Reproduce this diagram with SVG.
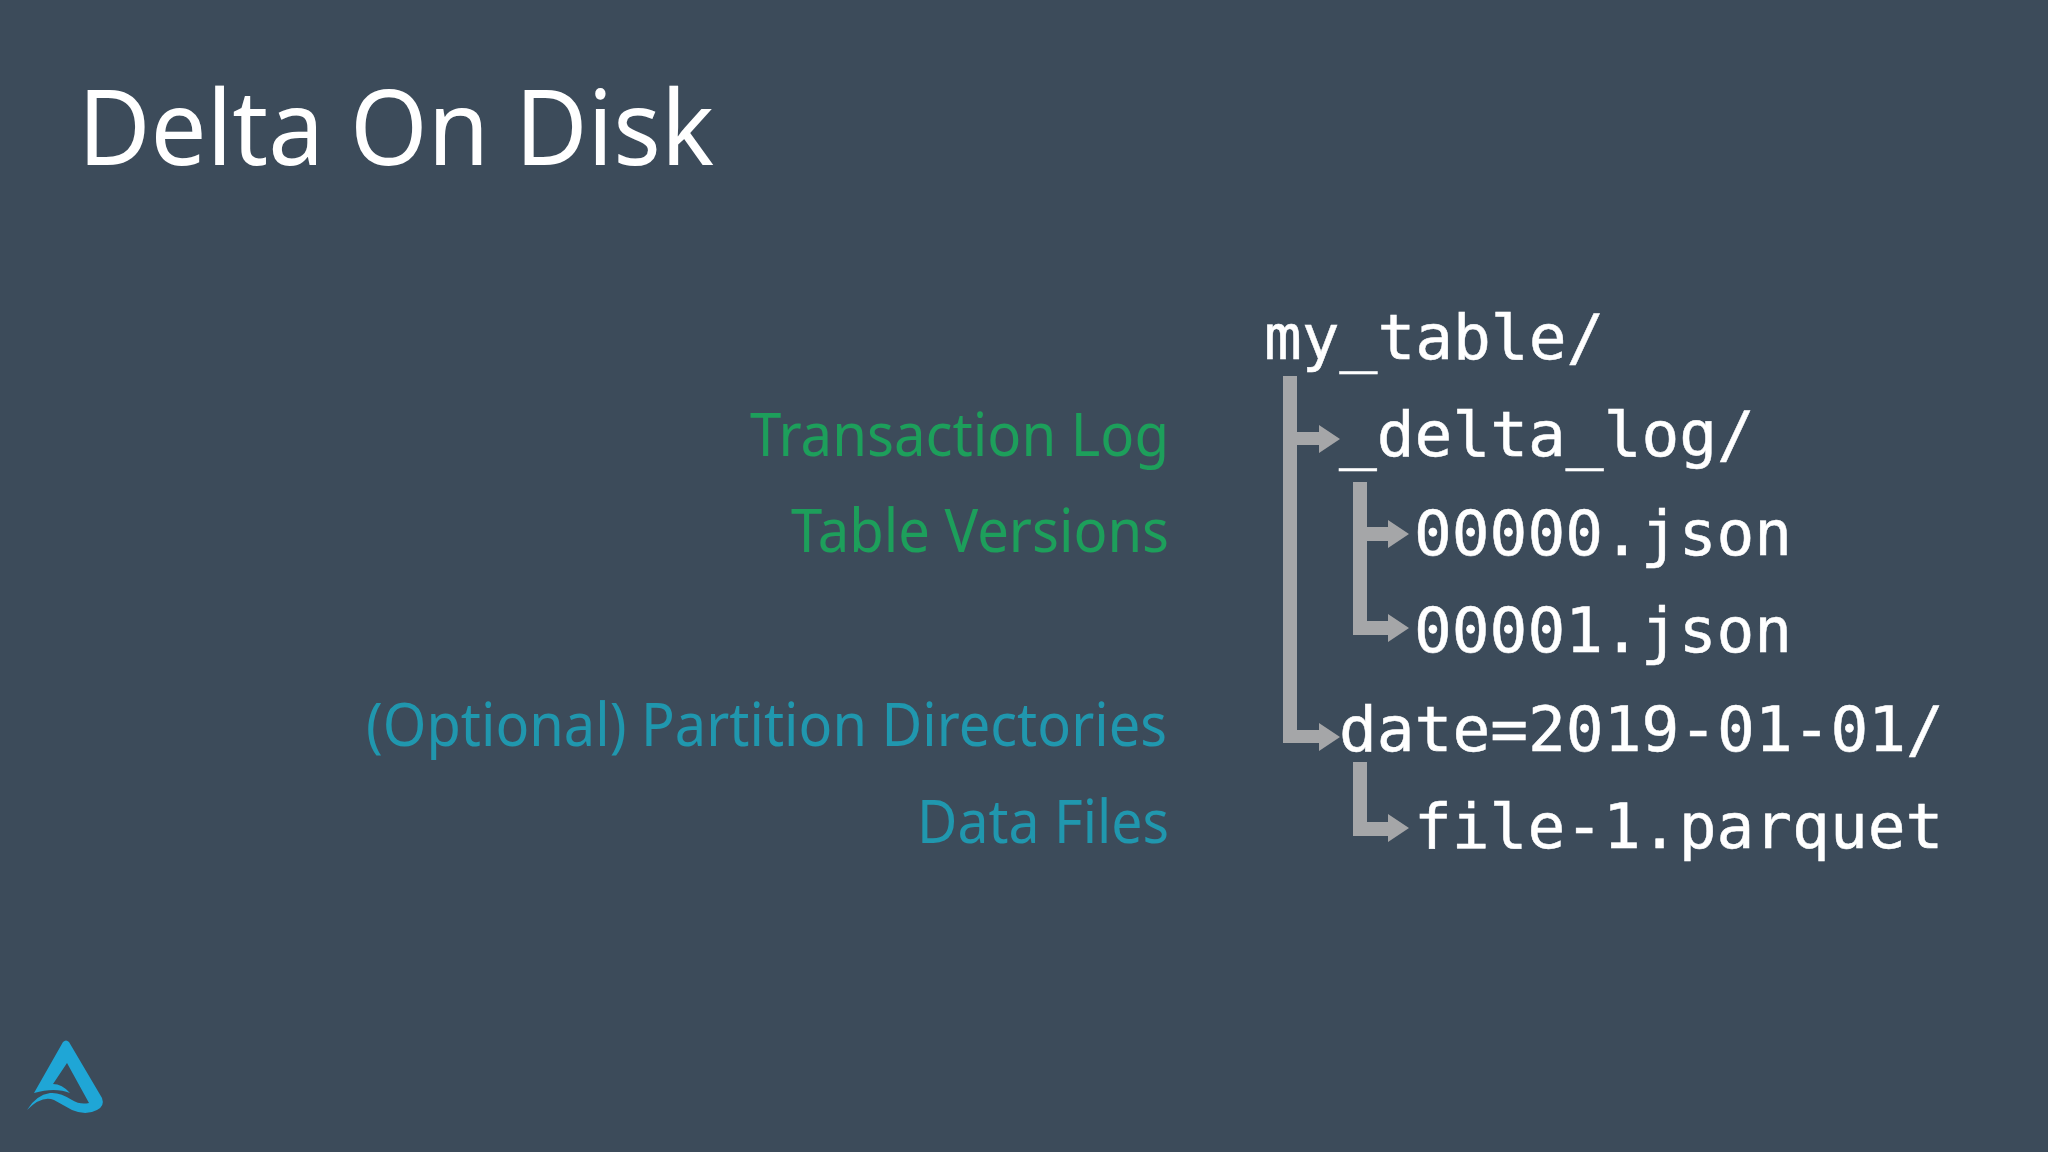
<svg xmlns="http://www.w3.org/2000/svg" width="2048" height="1152" viewBox="0 0 2048 1152">
<defs><style>
.t{font-family:"DejaVu Sans Mono",monospace;font-size:62.8px;fill:#fff;stroke:#fff;stroke-width:.5px}
.l{font-family:"Noto Sans",sans-serif;font-size:60px;text-anchor:end}
.g{fill:#1d9f5b}.b{fill:#2097ae}
.c{fill:#a5a6a8}
</style></defs>
<rect width="2048" height="1152" fill="#3c4b5a"/>
<text id="title" x="78" y="165" font-family="Noto Sans, sans-serif" font-size="105" fill="#fff" textLength="636" lengthAdjust="spacingAndGlyphs">Delta On Disk</text>
<g id="connectors" class="c">
<path d="M1283 376H1297V432H1319V425L1340 439L1319 453V445H1297V730H1319V723L1340 737L1319 751V743H1283Z"/>
<path d="M1353 482H1367V527H1388V520L1409 534L1388 548V541H1367V621H1388V614L1409 628L1388 642V635H1353Z"/>
<path d="M1353 762H1367V822H1388V814L1409 828L1388 842V836H1353Z"/>
</g>
<g id="my_table"><text class="t" x="1264" y="359">my_table/</text></g>
<g id="delta_log"><text class="t" x="1339" y="456">_delta_log/</text></g>
<g id="v0"><text class="t" x="1414" y="555">00000.json</text></g>
<g id="v1"><text class="t" x="1414" y="652">00001.json</text></g>
<g id="date"><text class="t" x="1339" y="751">date=2019-01-01/</text></g>
<g id="file"><text class="t" x="1414" y="848">file-1.parquet</text></g>
<g id="label-log"><text class="l g" x="1169" y="456" textLength="419" lengthAdjust="spacingAndGlyphs">Transaction Log</text></g>
<g id="label-ver"><text class="l g" x="1169" y="552" textLength="378" lengthAdjust="spacingAndGlyphs">Table Versions</text></g>
<g id="label-part"><text class="l b" x="1167" y="746" textLength="801" lengthAdjust="spacingAndGlyphs">(Optional) Partition Directories</text></g>
<g id="label-data"><text class="l b" x="1169" y="843" textLength="252" lengthAdjust="spacingAndGlyphs">Data Files</text></g>
<g id="logo"><path fill="#1fa6d6" d="M63 1042Q66 1039 69 1042L102 1098Q105 1106 97 1110Q86 1116 72 1110L54 1100Q42 1095 27 1110Q36 1095 50 1093Q60 1092 72 1100Q80 1105 89 1103L67 1063L53 1084Q62 1084 70 1093Q55 1087 34 1093Z"/></g>
</svg>
